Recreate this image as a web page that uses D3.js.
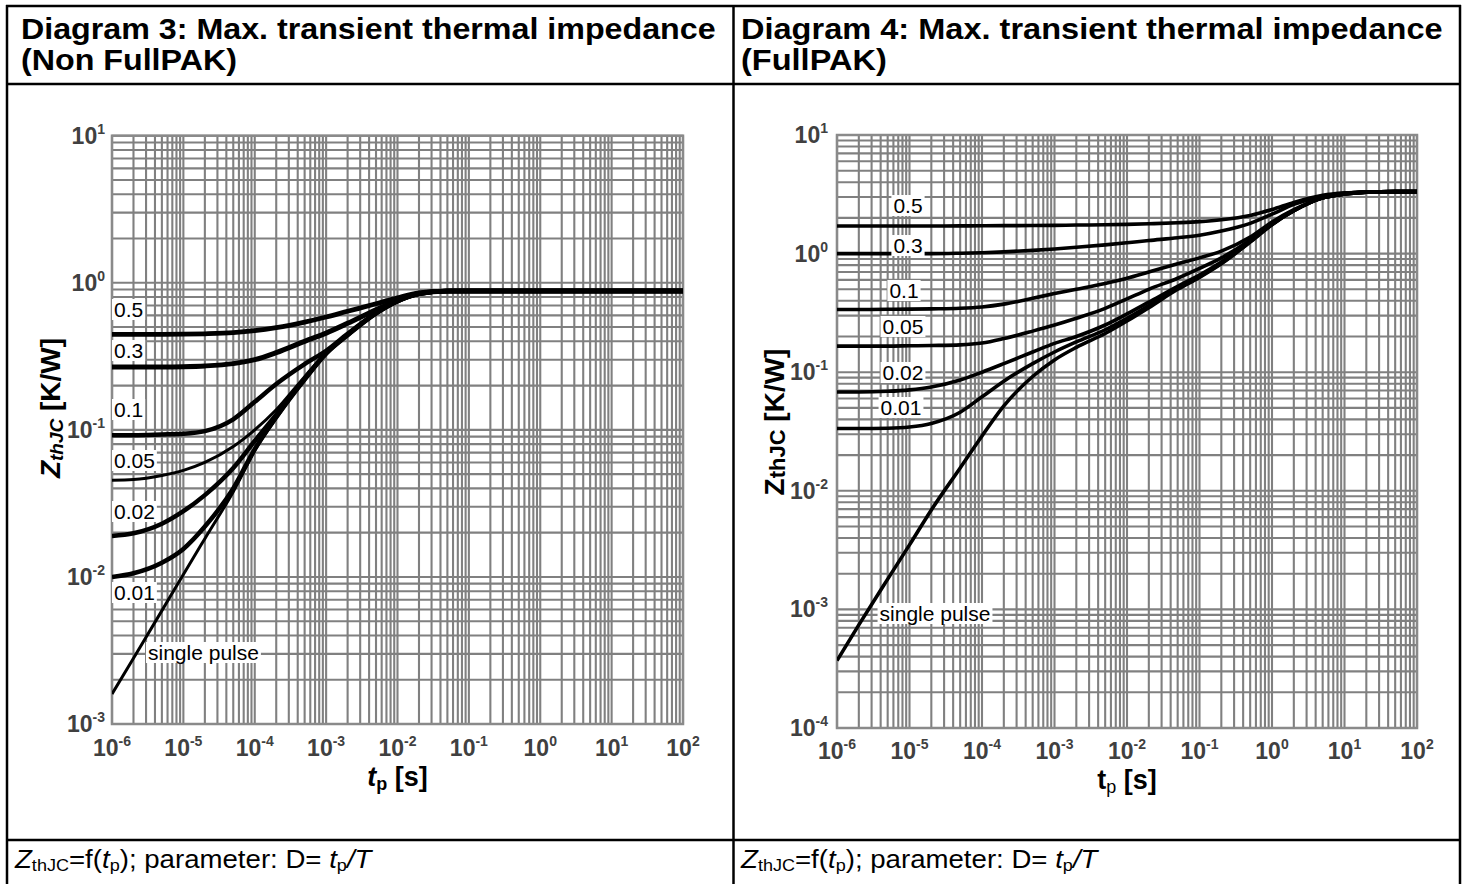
<!DOCTYPE html>
<html><head><meta charset="utf-8">
<script src="https://cdn.jsdelivr.net/npm/d3@7"></script>
<style>
html,body{margin:0;padding:0;background:#fff;}
svg{display:block;font-family:"Liberation Sans",Arial,Helvetica,sans-serif;}
</style></head><body>
<svg id="c" width="1466" height="884"></svg>
<script>
// ---------------- data ----------------
const tp = [1e-6,2e-6,5e-6,1e-5,2e-5,5e-5,1e-4,2e-4,5e-4,1e-3,2e-3,5e-3,1e-2,2e-2,5e-2,1e-1,2e-1,5e-1,1,2,5,10,20,50,100];
const dutyLabels = ["0.5","0.3","0.1","0.05","0.02","0.01","single pulse"];
const xTickExps = [-6,-5,-4,-3,-2,-1,0,1,2];
const yTickExpsNF = [-3,-2,-1,0,1];
const yTickExpsFP = [-4,-3,-2,-1,0,1];

// Diagram 3: Non FullPAK, ZthJC [K/W]
const nfD050 = [0.446,0.446,0.446,0.447,0.45,0.458,0.472,0.495,0.54,0.585,0.64,0.72,0.79,0.855,0.878,0.88,0.88,0.88,0.88,0.88,0.88,0.88,0.88,0.88,0.88];
const nfD030 = [0.268,0.268,0.268,0.269,0.272,0.282,0.30,0.335,0.40,0.455,0.53,0.655,0.76,0.845,0.878,0.88,0.88,0.88,0.88,0.88,0.88,0.88,0.88,0.88,0.88];
const nfD010 = [0.092,0.092,0.093,0.094,0.098,0.118,0.155,0.205,0.28,0.345,0.45,0.625,0.75,0.84,0.878,0.88,0.88,0.88,0.88,0.88,0.88,0.88,0.88,0.88,0.88];
const nfD005 = [0.0455,0.046,0.049,0.053,0.06,0.077,0.10,0.137,0.23,0.335,0.445,0.62,0.75,0.84,0.878,0.88,0.88,0.88,0.88,0.88,0.88,0.88,0.88,0.88,0.88];
const nfD002 = [0.019,0.0198,0.023,0.028,0.036,0.055,0.084,0.127,0.222,0.332,0.443,0.62,0.75,0.84,0.878,0.88,0.88,0.88,0.88,0.88,0.88,0.88,0.88,0.88,0.88];
const nfD001 = [0.0100,0.0106,0.0125,0.0155,0.022,0.04,0.074,0.122,0.22,0.33,0.44,0.62,0.75,0.84,0.878,0.88,0.88,0.88,0.88,0.88,0.88,0.88,0.88,0.88,0.88];
const nfSingle = [0.0016,0.0028,0.0059,0.0104,0.0182,0.038,0.072,0.12,0.22,0.33,0.44,0.62,0.75,0.84,0.878,0.88,0.88,0.88,0.88,0.88,0.88,0.88,0.88,0.88,0.88];

// Diagram 4: FullPAK, ZthJC [K/W]
const fpD050 = [1.71,1.71,1.71,1.71,1.71,1.713,1.716,1.72,1.725,1.73,1.74,1.75,1.765,1.785,1.82,1.86,1.93,2.1,2.35,2.7,3.1,3.25,3.31,3.33,3.33];
const fpD030 = [1.0,1.0,1.0,1.0,1.0,1.008,1.018,1.035,1.065,1.095,1.13,1.185,1.235,1.29,1.36,1.43,1.55,1.8,2.15,2.6,3.05,3.22,3.3,3.33,3.33];
const fpD010 = [0.338,0.338,0.339,0.34,0.342,0.346,0.355,0.375,0.42,0.46,0.5,0.56,0.62,0.7,0.82,0.92,1.05,1.38,1.85,2.35,2.95,3.2,3.3,3.33,3.33];
const fpD005 = [0.166,0.166,0.166,0.167,0.168,0.17,0.176,0.192,0.222,0.25,0.285,0.345,0.415,0.5,0.62,0.75,0.92,1.3,1.8,2.3,2.95,3.18,3.3,3.33,3.33];
const fpD002 = [0.068,0.068,0.069,0.071,0.075,0.086,0.1,0.118,0.148,0.175,0.2,0.25,0.31,0.39,0.53,0.66,0.85,1.27,1.77,2.3,2.95,3.18,3.3,3.33,3.33];
const fpD001 = [0.0335,0.0335,0.0337,0.0345,0.037,0.046,0.062,0.084,0.118,0.148,0.18,0.228,0.285,0.365,0.51,0.64,0.83,1.26,1.76,2.3,2.95,3.18,3.3,3.33,3.33];
const fpSingle = [0.00037,0.00074,0.0018,0.0035,0.0069,0.0156,0.029,0.052,0.092,0.127,0.162,0.212,0.27,0.35,0.5,0.63,0.82,1.25,1.75,2.3,2.95,3.18,3.3,3.33,3.33];

const nfSeries = [nfD050,nfD030,nfD010,nfD005,nfD002,nfD001,nfSingle];
const fpSeries = [fpD050,fpD030,fpD010,fpD005,fpD002,fpD001,fpSingle];

// ---------------- layout / style ----------------
const svg = d3.select("#c");
svg.append("rect").attr("width",1466).attr("height",884).attr("fill","#fff");

const panels = [
  {
    id:"nf", series:nfSeries, yExps:yTickExpsNF, yDomain:[1e-3,1e1],
    x0:112, x1:683, y0:135.7, y1:724,
    widths:[4.8,5,4.5,3,4.5,4.5,3],
    yTickGap:7, xTickDy:32,
    labelPos:[[114,317,"start"],[114,358,"start"],[114,417,"start"],[114,468,"start"],[114,519,"start"],[114,600,"start"],[148,660,"start"]],
    yTitle:{x:60,y:408,italic:true}, xTitle:{y:786,italic:true}
  },
  {
    id:"fp", series:fpSeries, yExps:yTickExpsFP, yDomain:[1e-4,1e1],
    x0:837, x1:1417, y0:135, y1:728,
    widths:[3.6,3.6,3.6,3.6,3.6,3.6,3.6],
    yTickGap:9, xTickDy:31,
    labelPos:[[908,213,"middle"],[908,253,"middle"],[904,298,"middle"],[903,334,"middle"],[903,380,"middle"],[901,415,"middle"],[935,621,"middle"]],
    yTitle:{x:784,y:422,italic:false}, xTitle:{y:789,italic:false}
  }
];

const GRID = "#808080";

panels.forEach(p => {
  const g = svg.append("g").attr("class","panel-"+p.id);
  const x = d3.scaleLog().domain([1e-6,1e2]).range([p.x0,p.x1]);
  const y = d3.scaleLog().domain(p.yDomain).range([p.y1,p.y0]);

  // grid
  const gg = g.append("g").attr("stroke",GRID).attr("stroke-width",2.1);
  gg.selectAll("line.v").data(x.ticks()).join("line").attr("class","v")
    .attr("x1",d=>x(d)).attr("x2",d=>x(d)).attr("y1",p.y0).attr("y2",p.y1);
  gg.selectAll("line.h").data(y.ticks()).join("line").attr("class","h")
    .attr("y1",d=>y(d)).attr("y2",d=>y(d)).attr("x1",p.x0).attr("x2",p.x1);
  g.append("rect").attr("x",p.x0).attr("y",p.y0).attr("width",p.x1-p.x0).attr("height",p.y1-p.y0)
    .attr("fill","none").attr("stroke","#8a8a8a").attr("stroke-width",2.5);

  // clip
  const clipId = "clip-"+p.id;
  svg.append("clipPath").attr("id",clipId).append("rect")
    .attr("x",p.x0).attr("y",p.y0-3).attr("width",p.x1-p.x0).attr("height",p.y1-p.y0+3);

  // curves
  const line = d3.line().x(d=>x(d[0])).y(d=>y(d[1])).curve(d3.curveMonotoneX);
  const cg = g.append("g").attr("clip-path","url(#"+clipId+")");
  p.series.forEach((s,i) => {
    cg.append("path").datum(d3.zip(tp,s)).attr("d",line)
      .attr("fill","none").attr("stroke","#000").attr("stroke-width",p.widths[i])
      .attr("stroke-linejoin","round").attr("stroke-linecap","butt");
  });

  // curve labels with white boxes
  const lg = g.append("g");
  dutyLabels.forEach((lab,i) => {
    const [lx,ly,anc] = p.labelPos[i];
    const t = lg.append("text").attr("x",lx).attr("y",ly).attr("text-anchor",anc)
      .attr("font-size",21).attr("fill","#000").text(lab);
    const bb = t.node().getBBox();
    lg.insert("rect","text").attr("x",bb.x-2).attr("y",bb.y+1).attr("width",bb.width+4).attr("height",bb.height-2)
      .attr("fill","#fff");
  });

  // x tick labels
  const xt = g.append("g").attr("fill","#404040").attr("font-weight","bold");
  xTickExps.forEach(e => {
    const t = xt.append("text").attr("x",x(Math.pow(10,e))).attr("y",p.y1+p.xTickDy)
      .attr("text-anchor","middle").attr("font-size",23);
    t.append("tspan").text("10");
    t.append("tspan").attr("font-size",14).attr("dy",-10).text(e);
  });
  // y tick labels
  const yt = g.append("g").attr("fill","#404040").attr("font-weight","bold");
  p.yExps.forEach(e => {
    const t = yt.append("text").attr("x",p.x0-p.yTickGap).attr("y",y(Math.pow(10,e))+8)
      .attr("text-anchor","end").attr("font-size",23);
    t.append("tspan").text("10");
    t.append("tspan").attr("font-size",14).attr("dy",-10).text(e);
  });

  // x title
  const xtl = g.append("text").attr("x",(p.x0+p.x1)/2).attr("y",p.xTitle.y)
    .attr("text-anchor","middle").attr("font-weight","bold").attr("font-size",27).attr("fill","#000");
  xtl.append("tspan").attr("font-style",p.xTitle.italic?"italic":"normal").text("t");
  xtl.append("tspan").attr("font-size",18).attr("font-weight",p.xTitle.italic?"bold":"normal").attr("dy",4).text("p");
  xtl.append("tspan").attr("dy",-4).text(" [s]");

  // y title
  const ytl = g.append("text").attr("transform",`translate(${p.yTitle.x},${p.yTitle.y}) rotate(-90)`)
    .attr("text-anchor","middle").attr("font-weight","bold").attr("font-size",28).attr("fill","#000");
  ytl.append("tspan").attr("font-style",p.yTitle.italic?"italic":"normal").text("Z");
  ytl.append("tspan").attr("font-style",p.yTitle.italic?"italic":"normal")
    .attr("font-size",p.yTitle.italic?19:22).attr("dy",p.yTitle.italic?3:1).text("thJC");
  ytl.append("tspan").attr("dy",p.yTitle.italic?-3:-1).text(" [K/W]");
});

// ---------------- table frame ----------------
const fr = svg.append("g").attr("stroke","#000").attr("stroke-width",2.5);
[[6,6,1461,6],[6,84,1461,84],[6,840,1461,840],[7,5,7,884],[733.5,5,733.5,884],[1460,5,1460,884]]
  .forEach(([a,b,c,d]) => fr.append("line").attr("x1",a).attr("y1",b).attr("x2",c).attr("y2",d));

// horizontally fit a text element to a target width (stretch like the reference)
function fitWidth(sel, x0, target, widthOf) {
  const w = widthOf || sel.node().getBBox().width;
  const s = target / w;
  sel.attr("transform", `translate(${x0},0) scale(${s},1) translate(${-x0},0)`);
}

// titles (one text element per cell, two lines)
const titles = [
  {x:21, w:695, l1:"Diagram 3: Max. transient thermal impedance", l2:"(Non FullPAK)"},
  {x:741, w:702, l1:"Diagram 4: Max. transient thermal impedance", l2:"(FullPAK)"}
];
titles.forEach(tt => {
  const t = svg.append("text").attr("font-weight","bold").attr("font-size",29).attr("fill","#000");
  const s1 = t.append("tspan").attr("x",tt.x).attr("y",39).text(tt.l1);
  t.append("tspan").attr("x",tt.x).attr("y",70).text(tt.l2);
  fitWidth(t, tt.x, tt.w, s1.node().getComputedTextLength());
});

// captions
[15,741].forEach(cx => {
  const t = svg.append("text").attr("x",cx).attr("y",868).attr("font-size",26).attr("fill","#000");
  t.append("tspan").attr("font-style","italic").text("Z");
  t.append("tspan").attr("font-size",17).attr("dy",3).text("thJC");
  t.append("tspan").attr("dy",-3).text("=f(");
  t.append("tspan").attr("font-style","italic").text("t");
  t.append("tspan").attr("font-size",17).attr("dy",3).text("p");
  t.append("tspan").attr("dy",-3).text("); parameter: D= ");
  t.append("tspan").attr("font-style","italic").text("t");
  t.append("tspan").attr("font-size",17).attr("dy",3).text("p");
  t.append("tspan").attr("dy",-3).attr("font-style","italic").text("/T");
  fitWidth(t, cx, 360);
});
</script>
</body></html>
